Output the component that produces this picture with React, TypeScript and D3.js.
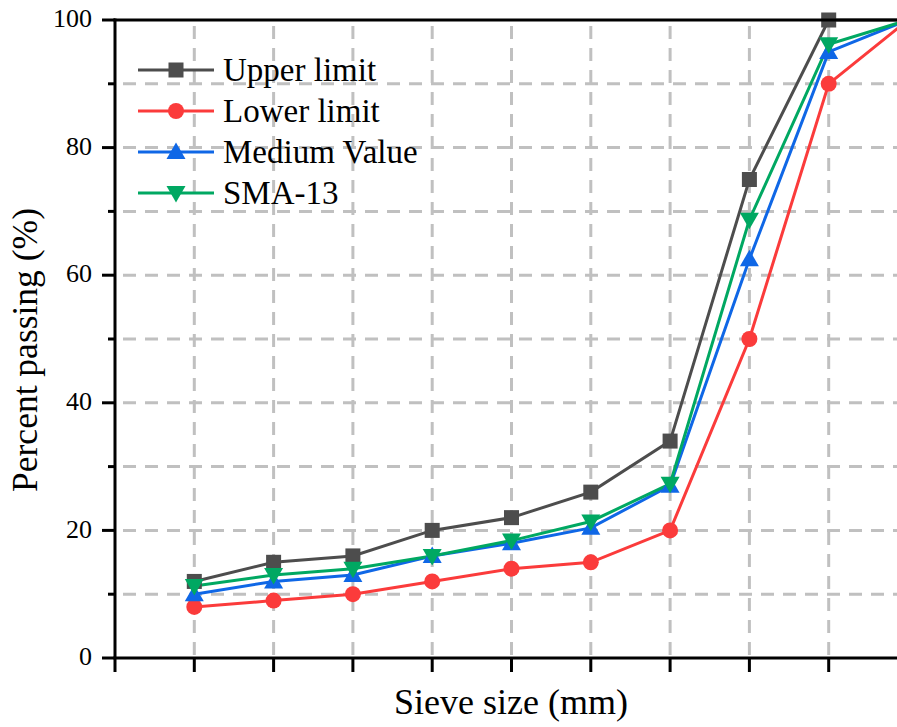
import React from "react";
import * as d3 from "d3";

const sieveIndex = [1, 2, 3, 4, 5, 6, 7, 8, 9, 10];
const upperLimit = [12, 15, 16, 20, 22, 26, 34, 75, 100, 100];
const lowerLimit = [8, 9, 10, 12, 14, 15, 20, 50, 90, 100];
const mediumValue = [10, 12, 13, 16, 18, 20.4, 27, 62.5, 95, 100];
const sma13 = [11.3, 13, 14, 16, 18.4, 21.4, 27.3, 68.7, 96.2, 100];
const yMajorTicks = [0, 20, 40, 60, 80, 100];
const yMinorTicks = [10, 30, 50, 70, 90];
const xTicks = [0, 1, 2, 3, 4, 5, 6, 7, 8, 9, 10];

const seriesNames = ["Upper limit", "Lower limit", "Medium Value", "SMA-13"];
const seriesColors = ["#4d4d4d", "#fb3b3b", "#0f67e6", "#00a862"];
const seriesMarkers = ["square", "circle", "triangle", "triangleDown"];
const seriesValues = [upperLimit, lowerLimit, mediumValue, sma13];

const W = 897;
const H = 727;
const left = 115;
const top = 20;
const bottom = 658;
const step = 79.3;

function Marker({ type, x, y, color }: { type: string; x: number; y: number; color: string }) {
  if (type === "square") return <rect x={x - 7.5} y={y - 7.5} width={15} height={15} fill={color} />;
  if (type === "circle") return <circle cx={x} cy={y} r={8} fill={color} />;
  if (type === "triangle")
    return <path d={`M${x},${y - 9.5} L${x + 9.5},${y + 7} L${x - 9.5},${y + 7} Z`} fill={color} />;
  return <path d={`M${x},${y + 9.5} L${x + 9.5},${y - 7} L${x - 9.5},${y - 7} Z`} fill={color} />;
}

export default function App() {
  const x = d3.scaleLinear().domain([0, 10]).range([left, left + step * 10]);
  const y = d3.scaleLinear().domain([0, 100]).range([bottom, top]);
  const line = d3
    .line<[number, number]>()
    .x((d) => x(d[0]))
    .y((d) => y(d[1]));
  const font = "'Liberation Serif', 'Times New Roman', serif";
  const gridColor = "#c0c0c0";
  const allY = [...yMajorTicks, ...yMinorTicks].filter((v) => v > 0 && v < 100);

  return (
    <svg width={W} height={H} style={{ position: "absolute", left: 0, top: 0 }} fontFamily={font}>
      <rect width={W} height={H} fill="#fff" />
      {/* grid */}
      {allY.map((v) => (
        <line key={"gy" + v} x1={left} x2={W} y1={y(v)} y2={y(v)} stroke={gridColor} strokeWidth={3} strokeDasharray="13 9" strokeDashoffset={-8} />
      ))}
      {xTicks.filter((v) => v > 0).map((v) => (
        <line key={"gx" + v} x1={x(v)} x2={x(v)} y1={bottom} y2={top} stroke={gridColor} strokeWidth={3} strokeDasharray="13 9" strokeDashoffset={-3} />
      ))}
      {/* series lines */}
      {seriesValues.map((vals, si) => (
        <path
          key={"l" + si}
          d={line(vals.map((v, i) => [sieveIndex[i], v]) as [number, number][]) || ""}
          fill="none"
          stroke={seriesColors[si]}
          strokeWidth={3}
        />
      ))}
      {seriesValues.map((vals, si) =>
        vals.map((v, i) => (
          <Marker key={"m" + si + "-" + i} type={seriesMarkers[si]} x={x(sieveIndex[i])} y={y(v)} color={seriesColors[si]} />
        ))
      )}
      {/* axes */}
      <line x1={left} x2={left} y1={top - 1.5} y2={bottom + 14} stroke="#000" strokeWidth={3} />
      <line x1={left - 1.5} x2={W} y1={bottom} y2={bottom} stroke="#000" strokeWidth={3} />
      <line x1={left - 1.5} x2={W} y1={top} y2={top} stroke="#000" strokeWidth={3} />
      {xTicks.filter((v) => v > 0).map((v) => (
        <line key={"xt" + v} x1={x(v)} x2={x(v)} y1={bottom} y2={bottom + 14} stroke="#000" strokeWidth={3} />
      ))}
      {yMajorTicks.map((v) => (
        <g key={"yt" + v}>
          <line x1={left - 13} x2={left} y1={y(v)} y2={y(v)} stroke="#000" strokeWidth={3} />
          <text x={left - 23} y={y(v)} dy="0.28em" textAnchor="end" fontSize={26} fill="#000">
            {v}
          </text>
        </g>
      ))}
      {yMinorTicks.map((v) => (
        <line key={"ym" + v} x1={left - 7} x2={left} y1={y(v)} y2={y(v)} stroke="#000" strokeWidth={3} />
      ))}
      {/* axis titles */}
      <text x={511} y={714} textAnchor="middle" fontSize={36} fill="#000">
        Sieve size (mm)
      </text>
      <text transform={`translate(37,350) rotate(-90)`} textAnchor="middle" fontSize={35.5} fill="#000">
        Percent passing (%)
      </text>
      {/* legend */}
      {seriesNames.map((name, i) => {
        const ly = 70 + i * 41;
        return (
          <g key={"lg" + i}>
            <line x1={138} x2={214} y1={ly} y2={ly} stroke={seriesColors[i]} strokeWidth={3} />
            <Marker type={seriesMarkers[i]} x={176} y={ly} color={seriesColors[i]} />
            <text x={223} y={ly} dy="0.33em" fontSize={33} fill="#000">
              {name}
            </text>
          </g>
        );
      })}
    </svg>
  );
}
